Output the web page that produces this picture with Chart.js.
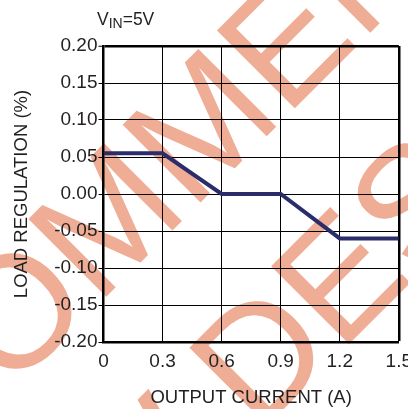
<!DOCTYPE html>
<html>
<head>
<meta charset="utf-8">
<script src="https://cdn.jsdelivr.net/npm/chart.js@4.4.1/dist/chart.umd.min.js"></script>
<style>
  html, body { margin: 0; padding: 0; background: #fff; overflow: hidden; }
  #wrap { width: 408px; height: 409px; overflow: hidden; }
</style>
</head>
<body>
<div id="wrap"><canvas id="grafico" width="420" height="409"></canvas></div>
<script>
// datos (V_IN = 5V)
const outputCurrent = [0, 0.3, 0.6, 0.9, 1.2, 1.5];
const loadRegulation = [0.055, 0.055, 0.0, 0.0, -0.06, -0.06];
const xTickLabels = ["0", "0.3", "0.6", "0.9", "1.2", "1.5"];
const yTickLabels = ["-0.20", "-0.15", "-0.10", "-0.05", "0.00", "0.05", "0.10", "0.15", "0.20"];
const watermarkWords = ["NOT ", "RECOMMENDED", "FOR NEW ", "DESIGNS"];

const textColor = "#231f20";

// marca de agua diagonal, debajo de todo
const watermark = {
  id: "watermark",
  beforeDraw(chart) {
    const ctx = chart.ctx;
    ctx.save();
    ctx.fillStyle = "#fff";
    ctx.fillRect(0, 0, chart.width, chart.height);
    ctx.rotate(-Math.PI / 4);
    ctx.font = '160px "Liberation Sans"';
    ctx.fillStyle = "#efad96";
    ctx.textBaseline = "alphabetic";
    ctx.textAlign = "right";
    ctx.fillText(watermarkWords[0], -610, 285);
    ctx.fillText(watermarkWords[2], -125, 490);
    ctx.textAlign = "left";
    ctx.fillText(watermarkWords[1], -610, 285);
    ctx.fillText(watermarkWords[3], -125, 490);
    ctx.restore();
  },
};

// etiqueta V_IN=5V con subindice
const vinLabel = {
  id: "vinLabel",
  afterDraw(chart) {
    const ctx = chart.ctx;
    ctx.save();
    ctx.fillStyle = textColor;
    ctx.textBaseline = "alphabetic";
    ctx.textAlign = "left";
    let x = 97;
    ctx.font = '17.5px "Liberation Sans"';
    ctx.fillText("V", x, 24.5);
    x += ctx.measureText("V").width;
    ctx.font = '14px "Liberation Sans"';
    ctx.fillText("IN", x, 27.5);
    x += ctx.measureText("IN").width;
    ctx.font = '17.5px "Liberation Sans"';
    ctx.fillText("=5V", x, 24.5);
    ctx.restore();
  },
};

const ctx = document.getElementById("grafico").getContext("2d");

const chart = new Chart(ctx, {
  type: "line",
  data: {
    datasets: [
      {
        label: "Load regulation",
        data: outputCurrent.map((x, i) => ({ x: x, y: loadRegulation[i] })),
        borderColor: "#2b2d6b",
        borderWidth: 4,
        pointRadius: 0,
        fill: false,
        tension: 0,
      },
    ],
  },
  options: {
    responsive: false,
    animation: false,
    devicePixelRatio: 1,
    layout: { padding: { top: 46, left: 0, right: 0, bottom: 0 } },
    plugins: {
      legend: { display: false },
      tooltip: { enabled: false },
    },
    scales: {
      x: {
        type: "linear",
        min: 0,
        max: 1.5,
        ticks: {
          stepSize: 0.3,
          padding: 8,
          color: textColor,
          font: { family: "Liberation Sans", size: 19 },
          maxRotation: 0,
          callback: (v, i) => xTickLabels[i],
        },
        grid: {
          color: "#000",
          lineWidth: (c) => (c.index === xTickLabels.length - 1 ? 2.5 : 1),
          drawTicks: false,
        },
        border: { display: true, color: "#000", width: 2.5 },
        title: {
          display: true,
          text: "OUTPUT CURRENT (A)",
          color: textColor,
          font: { family: "Liberation Sans", size: 18.5 },
          padding: { top: 6, bottom: 0 },
        },
      },
      y: {
        type: "linear",
        min: -0.2,
        max: 0.2,
        ticks: {
          stepSize: 0.05,
          padding: 1,
          color: textColor,
          font: { family: "Liberation Sans", size: 19 },
          callback: (v, i) => yTickLabels[i],
        },
        grid: {
          color: "#000",
          lineWidth: (c) => (c.index === yTickLabels.length - 1 ? 2.5 : 1),
          tickLength: 5,
          tickWidth: 1,
          tickColor: "#000",
        },
        border: { display: true, color: "#000", width: 2.5 },
        title: {
          display: true,
          text: "LOAD REGULATION (%)",
          color: textColor,
          font: { family: "Liberation Sans", size: 18.5 },
          padding: { top: 11, bottom: 20 },
        },
      },
    },
  },
  plugins: [watermark, vinLabel],
});
</script>
</body>
</html>
